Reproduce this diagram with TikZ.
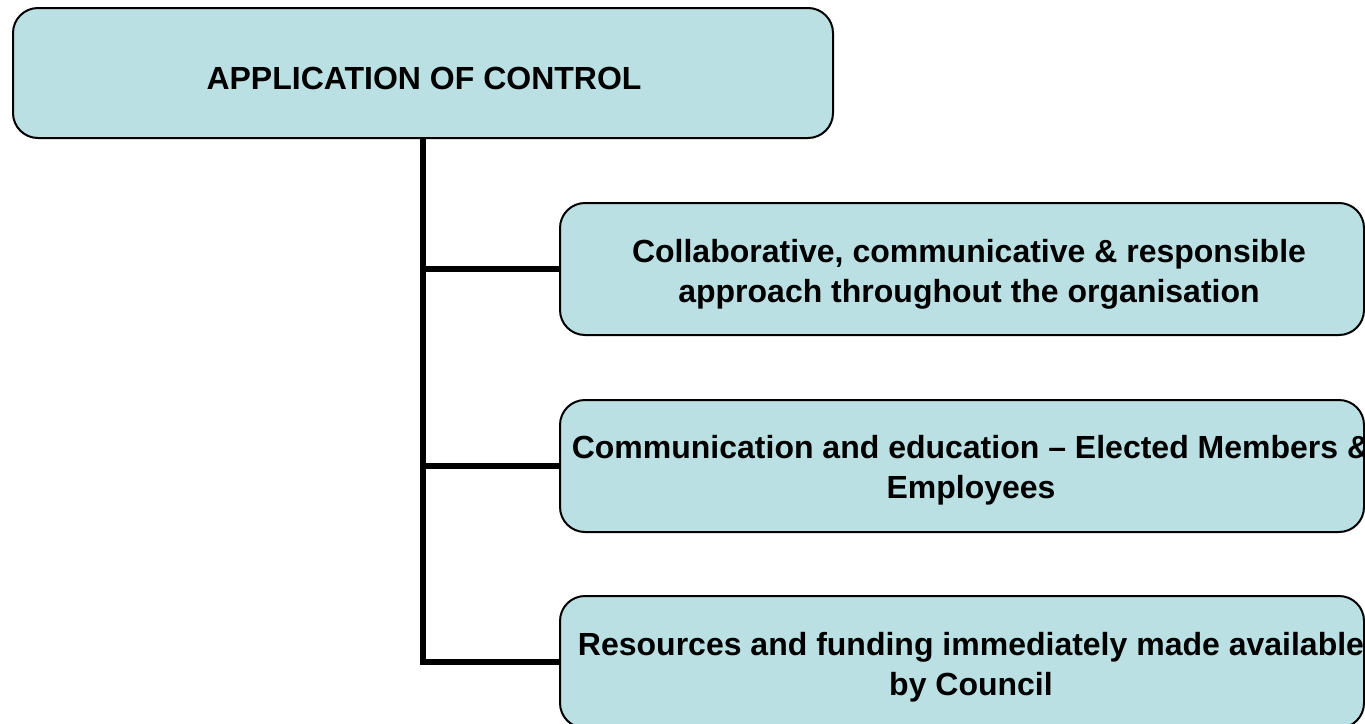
\documentclass[tikz,border=0pt]{standalone}
\usepackage{fontspec}
\setmainfont{Liberation Sans}
\definecolor{boxfill}{HTML}{BBE0E3}

\begin{document}
\begin{tikzpicture}[x=0.5pt, y=-0.5pt,
    box/.style={draw=black, line width=1pt, fill=boxfill, rounded corners=12.5pt, inner sep=0pt},
    boxtext/.style={align=center, font=\fontsize{16}{20}\selectfont\bfseries, inner sep=0pt},
    trunk/.style={line width=3pt, black}]
% Picture size
\useasboundingbox (0,0) rectangle (1365,723);
\clip (0,0) rectangle (1365,723);

% Top box
\node[box, minimum width=410pt, minimum height=65pt] (control) at (423,73) {};
\node[boxtext] (control-text) at (424,78) {APPLICATION OF CONTROL};

% Branch boxes
\node[box, minimum width=402pt, minimum height=66pt] (approach) at (962,269) {};
\node[boxtext] (approach-text) at (969,274) {Collaborative, communicative \& responsible\\approach throughout the organisation};

\node[box, minimum width=402pt, minimum height=66pt] (comms) at (962,466) {};
\node[boxtext] (comms-text) at (971,470) {Communication and education -- Elected Members \&\\Employees};

\node[box, minimum width=402pt, minimum height=66pt] (funding) at (962,662) {};
\node[boxtext] (funding-text) at (971,667) {Resources and funding immediately made available\\by Council};

% Connectors
\draw[trunk] (control.south) |- (funding.west);
\draw[trunk] (control.south |- approach.west) -- (approach.west);
\draw[trunk] (control.south |- comms.west) -- (comms.west);
\end{tikzpicture}
\end{document}
